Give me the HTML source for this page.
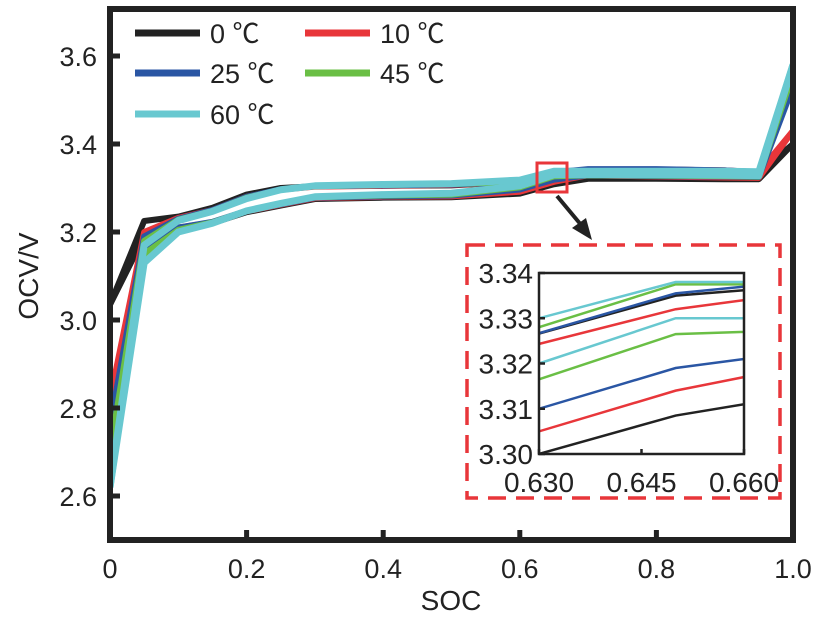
<!DOCTYPE html>
<html><head><meta charset="utf-8"><style>
html,body{margin:0;background:#fff;overflow:hidden;width:827px;height:617px}
svg{display:block;font-family:"Liberation Sans","Noto Sans CJK SC",sans-serif}
</style></head><body>
<svg id="c" width="827" height="617"></svg>
<script>
const soc=[0,0.05,0.1,0.15,0.2,0.25,0.3,0.4,0.5,0.6,0.65,0.7,0.8,0.9,0.95,1.0];
const series=["0 ℃","10 ℃","25 ℃","45 ℃","60 ℃"];
const colors=["#222222","#e8363a","#2a56a4","#6abf45","#68c8d0"];
const upper0=[3.035,3.225,3.235,3.255,3.285,3.300,3.304,3.305,3.306,3.314,3.335,3.341,3.342,3.34,3.335,3.40];
const upper10=[2.82,3.20,3.232,3.25,3.28,3.296,3.303,3.305,3.307,3.3128,3.332,3.342,3.342,3.34,3.336,3.43];
const upper25=[2.76,3.19,3.23,3.25,3.28,3.297,3.304,3.306,3.308,3.3135,3.3355,3.343,3.343,3.34,3.336,3.53];
const upper45=[2.70,3.18,3.228,3.248,3.278,3.296,3.304,3.307,3.309,3.3138,3.3375,3.3375,3.3375,3.337,3.337,3.56];
const upper60=[2.62,3.17,3.226,3.247,3.276,3.296,3.305,3.308,3.31,3.318,3.338,3.338,3.338,3.338,3.337,3.58];
const lower0=[3.035,3.19,3.21,3.22,3.245,3.26,3.275,3.278,3.279,3.2873,3.3085,3.321,3.321,3.32,3.32,3.40];
const lower10=[2.82,3.18,3.21,3.222,3.247,3.262,3.277,3.28,3.281,3.2915,3.314,3.329,3.326,3.324,3.323,3.43];
const lower25=[2.76,3.16,3.21,3.223,3.248,3.263,3.278,3.281,3.283,3.2965,3.319,3.329,3.327,3.326,3.325,3.53];
const lower45=[2.70,3.15,3.205,3.222,3.248,3.264,3.279,3.283,3.285,3.3015,3.3265,3.329,3.328,3.327,3.326,3.56];
const lower60=[2.62,3.13,3.2,3.22,3.248,3.265,3.28,3.285,3.288,3.305,3.330,3.330,3.33,3.329,3.328,3.58];
const uppers=[upper0,upper10,upper25,upper45,upper60];
const lowers=[lower0,lower10,lower25,lower45,lower60];
const xTicks=[0,0.2,0.4,0.6,0.8,1.0];
const xTickLabels=["0","0.2","0.4","0.6","0.8","1.0"];
const yTicks=[2.6,2.8,3.0,3.2,3.4,3.6];
const yTickLabels=["2.6","2.8","3.0","3.2","3.4","3.6"];
const insetXTicks=[0.63,0.645,0.66];
const insetXLabels=["0.630","0.645","0.660"];
const insetYTicks=[3.30,3.31,3.32,3.33,3.34];
const insetYLabels=["3.30","3.31","3.32","3.33","3.34"];

const NS="http://www.w3.org/2000/svg";
const svg=document.getElementById('c');
function mk(t,a,p){const e=document.createElementNS(NS,t);for(const k in a)e.setAttribute(k,a[k]);(p||svg).appendChild(e);return e;}
const X0=110,X1=793,Y0=12,Y1=540;
const xs=v=>X0+(v-0)/(1-0)*(X1-X0);
const ys=v=>Y1-(v-2.5)/(3.7-2.5)*(Y1-Y0);

const gLines=mk('g',{});


const clip=mk('clipPath',{id:'cp'});mk('rect',{x:X0,y:Y0,width:X1-X0,height:Y1-Y0},clip);
gLines.setAttribute('clip-path','url(#cp)');
for(let i=0;i<5;i++){
  [uppers[i],lowers[i]].forEach((arr,j)=>{
    const p=mk('polyline',{points:arr.map((v,k)=>xs(soc[k])+','+ys(v)).join(' '),fill:'none',stroke:colors[i],'stroke-width':i==4?7:6,'stroke-linejoin':'round'},gLines);
    
    
  });
}
const fr=mk('rect',{x:X0,y:Y0-3,width:X1-X0,height:Y1-Y0+3,fill:'none',stroke:'#222','stroke-width':6});


xTicks.forEach((t,i)=>{
  mk('line',{x1:xs(t),x2:xs(t),y1:Y1,y2:Y1-10,stroke:'#222','stroke-width':5});
  const tx=mk('text',{x:xs(t),y:578,'font-size':27,'text-anchor':'middle',fill:'#222'});tx.textContent=xTickLabels[i];
  
  
});
yTicks.forEach((t,i)=>{
  mk('line',{x1:X0,x2:X0+10,y1:ys(t),y2:ys(t),stroke:'#222','stroke-width':5});
  const tx=mk('text',{x:97,y:ys(t)+10,'font-size':27,'text-anchor':'end',fill:'#222'});tx.textContent=yTickLabels[i];
  
  
});
let t=mk('text',{x:451,y:610,'font-size':28,'text-anchor':'middle',fill:'#222'});t.textContent='SOC';


t=mk('text',{x:38,y:276,'font-size':28,'text-anchor':'middle',fill:'#222',transform:'rotate(-90 38 276)'});t.textContent='OCV/V';



const legPos=[[135,33],[305,33],[135,73],[305,73],[135,114]];
series.forEach((s,i)=>{
  const [lx,ly]=legPos[i];
  const g=mk('g',{});
  
  
  mk('line',{x1:lx,x2:lx+65,y1:ly,y2:ly,stroke:colors[i],'stroke-width':7},g);
  const tx=mk('text',{x:lx+75,y:ly+10,'font-size':27,fill:'#222'},g);tx.textContent=s;
});

const zr=mk('rect',{x:537,y:163,width:30,height:29,fill:'none',stroke:'#e8363a','stroke-width':3});


mk('line',{x1:557,y1:196,x2:582,y2:226,stroke:'#222','stroke-width':4});
const ah=mk('polygon',{points:'592,240 572,228 586,218',fill:'#222'});



const ib=mk('rect',{x:467,y:245,width:313,height:253,fill:'#fff',stroke:'#e8363a','stroke-width':3.5,'stroke-dasharray':'18 10'});


const IX0=539,IX1=744,IY0=273,IY1=454;
const ixs=v=>IX0+(v-0.63)/(0.66-0.63)*(IX1-IX0);
const iys=v=>IY1-(v-3.30)/(3.34-3.30)*(IY1-IY0);
const gi=mk('g',{});


const clip2=mk('clipPath',{id:'cp2'});mk('rect',{x:IX0,y:IY0,width:IX1-IX0,height:IY1-IY0},clip2);
gi.setAttribute('clip-path','url(#cp2)');
for(let i=0;i<5;i++){
  [uppers[i],lowers[i]].forEach(arr=>{
    const p=mk('polyline',{points:arr.map((v,k)=>ixs(soc[k])+','+iys(v)).join(' '),fill:'none',stroke:colors[i],'stroke-width':2.5},gi);
    
    
  });
}
mk('rect',{x:IX0,y:IY0,width:IX1-IX0,height:IY1-IY0,fill:'none',stroke:'#222','stroke-width':2.5});
insetXTicks.forEach((v,i)=>{
  mk('line',{x1:ixs(v),x2:ixs(v),y1:IY1,y2:IY1-5,stroke:'#222','stroke-width':2.5});
  const tx=mk('text',{x:ixs(v),y:492,'font-size':28,'text-anchor':'middle',fill:'#222'});tx.textContent=insetXLabels[i];
  
  
});
insetYTicks.forEach((v,i)=>{
  mk('line',{x1:IX0,x2:IX0+6,y1:iys(v),y2:iys(v),stroke:'#222','stroke-width':2.5});
  const tx=mk('text',{x:533,y:iys(v)+10,'font-size':28,'text-anchor':'end',fill:'#222'});tx.textContent=insetYLabels[i];
  
  
});
</script>
</body></html>
